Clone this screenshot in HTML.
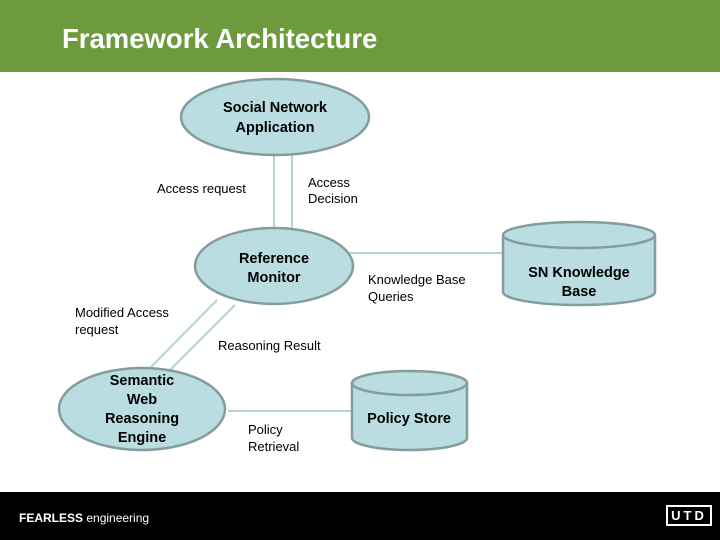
<!DOCTYPE html>
<html><head><style>
body{margin:0;width:720px;height:540px;overflow:hidden;background:#fff;font-family:"Liberation Sans",Arial,sans-serif}
.hdr{position:absolute;left:0;top:0;width:720px;height:72px;background:#6c9a3c}
.hdr div{position:absolute;left:62px;top:23px;color:#fff;font-weight:bold;font-size:27.5px}
.ftr{position:absolute;left:0;top:492px;width:720px;height:48px;background:#000}
</style></head><body>
<div class="hdr"><div>Framework Architecture</div></div>
<svg width="720" height="540" style="position:absolute;left:0;top:0">
<g stroke="#b5d3d5" stroke-width="2" fill="none">
<line x1="274" y1="155" x2="274" y2="228"/>
<line x1="292" y1="155" x2="292" y2="228"/>
<line x1="350" y1="253" x2="505" y2="253"/>
<line x1="217" y1="300" x2="150" y2="368"/>
<line x1="235" y1="305" x2="170" y2="370"/>
<line x1="228" y1="411" x2="352" y2="411"/>
</g>
<g fill="#b9dde1" stroke="#849c9e" stroke-width="2.5">
<ellipse cx="275" cy="117" rx="94" ry="38"/>
<ellipse cx="274" cy="266" rx="79" ry="38"/>
<ellipse cx="142" cy="409" rx="83" ry="41"/>
<path d="M352 383 L352 438 A57.5 12 0 0 0 467 438 L467 383"/>
<ellipse cx="409.5" cy="383" rx="57.5" ry="12"/>
<path d="M503 235 L503 292 A76 13 0 0 0 655 292 L655 235"/>
<ellipse cx="579" cy="235" rx="76" ry="13"/>
</g>
<g font-family="Liberation Sans,Arial,sans-serif" font-weight="bold" font-size="14.5" fill="#000" text-anchor="middle">
<text x="275" y="112">Social Network</text><text x="275" y="132">Application</text>
<text x="274" y="263">Reference</text><text x="274" y="282">Monitor</text>
<text x="142" y="385">Semantic</text><text x="142" y="404">Web</text><text x="142" y="423">Reasoning</text><text x="142" y="442">Engine</text>
<text x="409" y="423">Policy Store</text>
<text x="579" y="277">SN Knowledge</text><text x="579" y="296">Base</text>
</g>
<g font-family="Liberation Sans,Arial,sans-serif" font-size="13" fill="#000">
<text x="157" y="193">Access request</text>
<text x="308" y="187">Access</text><text x="308" y="203">Decision</text>
<text x="368" y="284">Knowledge Base</text><text x="368" y="301">Queries</text>
<text x="75" y="317">Modified Access</text><text x="75" y="334">request</text>
<text x="218" y="350">Reasoning Result</text>
<text x="248" y="434">Policy</text><text x="248" y="451">Retrieval</text>
</g>
</svg>
<div class="ftr">
<div style="position:absolute;left:19px;top:19px;color:#fff;font-size:12px"><b>FEARLESS</b> engineering</div>
<div style="position:absolute;left:666px;top:13px;width:42px;height:17px;border:2px solid #fff;color:#fff;font-size:13px;font-weight:bold;letter-spacing:3px;text-align:center;line-height:17px">UTD</div>
</div>
</body></html>
